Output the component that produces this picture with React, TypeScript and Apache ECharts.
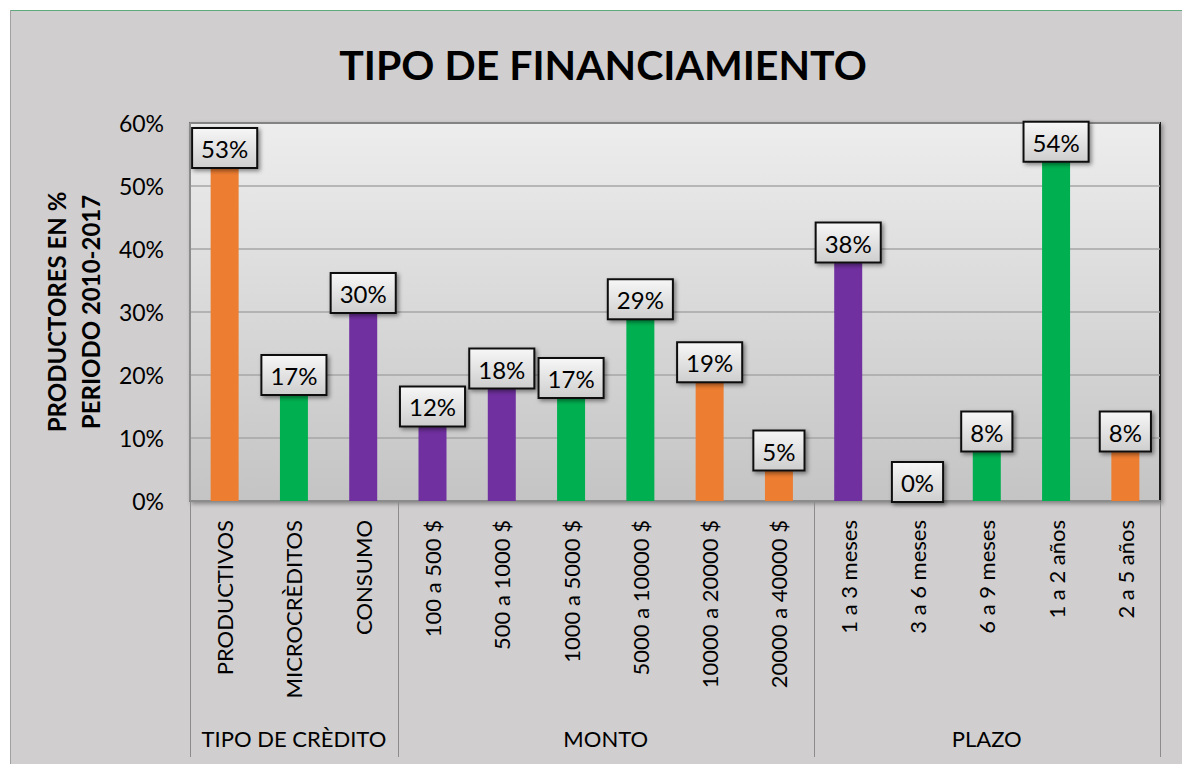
import React, { useEffect, useRef } from "react";
import * as echarts from "echarts";

const categories = [
  "PRODUCTIVOS", "MICROCRÈDITOS", "CONSUMO",
  "100 a 500 $", "500 a 1000 $", "1000 a 5000 $", "5000 a 10000 $", "10000 a 20000 $", "20000 a 40000 $",
  "1 a 3 meses", "3 a 6 meses", "6 a 9 meses", "1 a 2 años", "2 a 5 años",
];
const values = [53, 17, 30, 12, 18, 16.5, 29, 19, 5, 38, 0, 8, 54, 8];
const groups = ["TIPO DE CRÈDITO", "MONTO", "PLAZO"];
const groupSizes = [3, 6, 5];
const yTicks = [0, 10, 20, 30, 40, 50, 60];

const ORANGE = "#ed7d31";
const GREEN = "#00b050";
const PURPLE = "#7030a0";
const barColors = [ORANGE, GREEN, PURPLE, PURPLE, PURPLE, GREEN, GREEN, ORANGE, ORANGE, PURPLE, GREEN, GREEN, GREEN, ORANGE];

const FONT = "Lato, 'Open Sans', sans-serif";

export default function App() {
  const ref = useRef<HTMLDivElement>(null);
  useEffect(() => {
    if (!ref.current) return;
    const chart = echarts.init(ref.current, undefined, { renderer: "svg" });
    const labelBg = new echarts.graphic.LinearGradient(0, 0, 0, 1, [
      { offset: 0, color: "#f6f6f6" },
      { offset: 1, color: "#cfcfcf" },
    ]);
    chart.setOption({
      animation: false,
      backgroundColor: "#d0cecf",
      textStyle: { fontFamily: FONT },
      title: {
        text: "TIPO DE FINANCIAMIENTO",
        left: 588,
        top: 29,
        textAlign: "center",
        textStyle: { fontFamily: FONT, fontSize: 41, fontWeight: "bold", color: "#000" },
      },
      grid: {
        left: 180,
        top: 113,
        right: 22,
        bottom: 263,
        show: true,
        borderColor: "#1a1a1a",
        borderWidth: 2,
        backgroundColor: new echarts.graphic.LinearGradient(0, 0, 0, 1, [
          { offset: 0, color: "#ededed" },
          { offset: 1, color: "#c4c4c4" },
        ]),
        shadowColor: "rgba(0,0,0,0.35)",
        shadowBlur: 4,
        shadowOffsetX: 2,
        shadowOffsetY: 2,
      },
      xAxis: {
        type: "category",
        data: categories,
        axisLine: { show: true, lineStyle: { color: "#8c8c8c", width: 2 } },
        axisTick: { show: false },
        axisLabel: {
          rotate: 90,
          interval: 0,
          margin: 19,
          fontSize: 22,
          color: "#000",
          fontFamily: FONT,
        },
      },
      yAxis: {
        type: "value",
        min: 0,
        max: 60,
        interval: 10,
        name: "PRODUCTORES EN %\nPERIODO 2010-2017",
        nameLocation: "middle",
        nameRotate: 90,
        nameGap: 79,
        nameTextStyle: { fontFamily: FONT, fontSize: 24, fontWeight: "bold", color: "#000", lineHeight: 34 },
        axisLine: { show: true, lineStyle: { color: "#8c8c8c", width: 2 } },
        axisTick: { show: false },
        axisLabel: {
          margin: 26,
          fontSize: 23,
          color: "#000",
          fontFamily: FONT,
          formatter: (v: number) => (yTicks.includes(v) ? `${v}%` : ""),
        },
        splitLine: { lineStyle: { color: "#a6a6a6", width: 1.5 } },
      },
      series: [
        {
          type: "bar",
          barWidth: 28,
          data: values.map((v, i) => ({ value: v, itemStyle: { color: barColors[i] } })),
          label: {
            show: true,
            position: "top",
            distance: 0,
            formatter: (p: any) => `${Math.round(p.value)}%`,
            fontFamily: FONT,
            fontSize: 24,
            lineHeight: 25,
            color: "#000",
            backgroundColor: labelBg,
            borderColor: "#111",
            borderWidth: 2,
            padding: [7, 8, 6, 8],
            shadowColor: "rgba(0,0,0,0.45)",
            shadowBlur: 4,
            shadowOffsetX: 2,
            shadowOffsetY: 2,
          },
        },
      ],
    });

    // multi-level category axis: separators and group labels
    const x0 = chart.convertToPixel({ xAxisIndex: 0 }, categories[0]) as number;
    const x1 = chart.convertToPixel({ xAxisIndex: 0 }, categories[1]) as number;
    const band = x1 - x0;
    const left = x0 - band / 2;
    const graphics: any[] = [];
    let start = 0;
    const bounds = [0];
    groupSizes.forEach((n, gi) => {
      const end = start + n;
      bounds.push(end);
      graphics.push({
        type: "text",
        x: left + band * (start + n / 2),
        y: 728,
        style: {
          text: groups[gi],
          fontFamily: FONT,
          fontSize: 22,
          fill: "#000",
          textAlign: "center",
          textVerticalAlign: "middle",
        },
      });
      start = end;
    });
    bounds.forEach((b) => {
      const x = Math.round(left + band * b) + 0.5;
      graphics.push({
        type: "line",
        shape: { x1: x, y1: 492, x2: x, y2: 747 },
        style: { stroke: "#8c8c8c", lineWidth: 1 },
      });
    });
    chart.setOption({ graphic: graphics });

    return () => chart.dispose();
  }, []);

  return (
    <div style={{ position: "fixed", left: 0, top: 0, width: 1182, height: 764, background: "#fff", overflow: "hidden" }}>
      <div ref={ref} style={{ position: "absolute", left: 10, top: 10, width: 1172, height: 754 }} />
      <div style={{ position: "absolute", left: 10, top: 10, width: 1172, height: 1, background: "#5ea97e" }} />
      <div style={{ position: "absolute", left: 10, top: 10, width: 1, height: 754, background: "#a0a0a0" }} />
    </div>
  );
}
